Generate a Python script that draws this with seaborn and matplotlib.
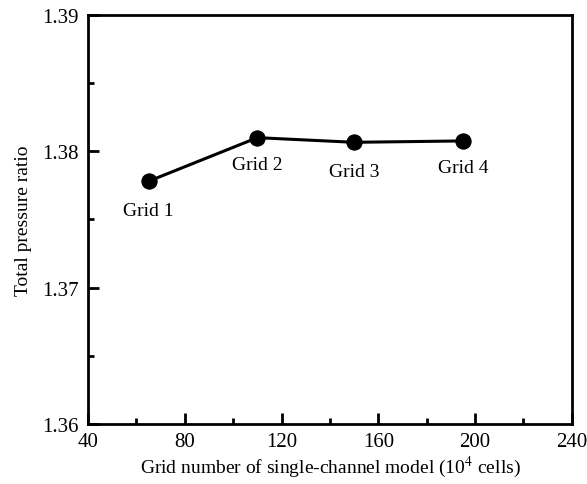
import numpy as np
import pandas as pd
import seaborn as sns
import matplotlib.pyplot as plt
from matplotlib.ticker import MultipleLocator

cells = [65, 110, 150, 195]
ratio = [1.3778, 1.3810, 1.38066, 1.38076]
labels = ['Grid 1', 'Grid 2', 'Grid 3', 'Grid 4']
label_dy = [-21, -19, -21, -19]  # points below the marker

df = pd.DataFrame({'cells': cells, 'ratio': ratio})

sns.set_style('ticks', {'axes.edgecolor': 'black', 'xtick.color': 'black',
                        'ytick.color': 'black', 'text.color': 'black',
                        'axes.labelcolor': 'black'})
plt.rcParams['font.family'] = ['Liberation Serif', 'DejaVu Serif']
plt.rcParams['mathtext.fontset'] = 'stix'

fig = plt.figure(figsize=(5.87, 4.85), dpi=100)
ax = fig.add_axes([0.150, 0.124, 0.824, 0.843])

sns.lineplot(data=df, x='cells', y='ratio', ax=ax, color='black', lw=2.2,
             marker='o', markersize=11, markeredgecolor='black', markerfacecolor='black')

for x, y, t, dy in zip(cells, ratio, labels, label_dy):
    ax.annotate(t, (x, y), xytext=(0, dy), textcoords='offset points',
                ha='center', va='center', fontsize=14)

ax.set_xlim(40, 240)
ax.set_ylim(1.36, 1.39)
ax.xaxis.set_major_locator(MultipleLocator(40))
ax.xaxis.set_minor_locator(MultipleLocator(20))
ax.yaxis.set_major_locator(MultipleLocator(0.01))
ax.yaxis.set_minor_locator(MultipleLocator(0.005))
ax.yaxis.set_major_formatter(plt.FormatStrFormatter('%.2f'))
ax.tick_params(which='major', direction='in', length=8, width=2, labelsize=15)
ax.tick_params(axis='x', which='major', pad=6)
ax.tick_params(axis='y', which='major', pad=7)
ax.tick_params(which='minor', direction='in', length=4, width=2)
for s in ax.spines.values():
    s.set_linewidth(2)
    s.set_color('black')

ax.set_xlabel('Grid number of single-channel model (10$^4$ cells)', fontsize=14, labelpad=2)
ax.set_ylabel('Total pressure ratio', fontsize=14, labelpad=7)

fig.savefig('out.png', dpi=100)
